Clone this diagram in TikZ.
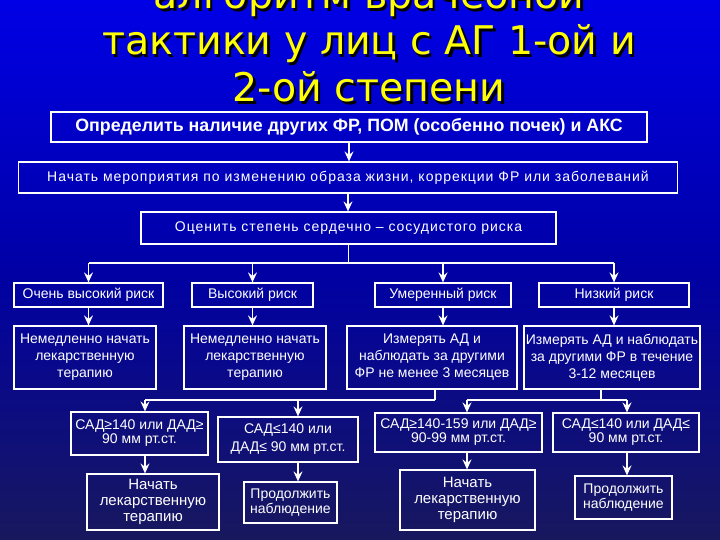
\documentclass[tikz,border=0pt]{standalone}
\usepackage{fontspec}
\setmainfont{Liberation Sans}
\newfontfamily\titlefont{DejaVu Sans}
\newfontfamily\spacedfont[LetterSpace=7]{Liberation Sans}
\usetikzlibrary{arrows.meta}
\definecolor{bgtop}{RGB}{0,0,230}
\definecolor{bgmid}{RGB}{0,0,165}
\definecolor{bgbot}{RGB}{24,24,94}
\definecolor{ttl}{RGB}{255,255,0}
\begin{document}
\begin{tikzpicture}[x=1pt,y=-1pt,
  box/.style={draw=white,line width=1.2pt,text=white,align=center,inner sep=0pt,font=\fontsize{14}{17}\selectfont},
  conn/.style={draw=white,line width=1.8pt},
  arr/.style={conn,-{Stealth[length=10pt,width=9pt,inset=3.5pt]}},
  ttlsh/.style={anchor=base,text=black,font=\titlefont\fontsize{39.5}{46}\selectfont},
  ttltx/.style={anchor=base,text=ttl,font=\titlefont\fontsize{39.5}{46}\selectfont},
]
\useasboundingbox (0,0) rectangle (720,540);
\clip (0,0) rectangle (720,540);
\shade[top color=bgtop,bottom color=bgbot,middle color=bgmid] (0,0) rectangle (720,540);
% title
\node[ttlsh] (t1s) at (371.5,11.5) {алгоритм врачебной};
\node[ttlsh] (t2s) at (371.5,57.5) {тактики у лиц с АГ 1-ой и};
\node[ttlsh] (t3s) at (371.5,104.5) {2-ой степени};
\node[ttltx] (t1) at (369,9) {алгоритм врачебной};
\node[ttltx] (t2) at (369,55) {тактики у лиц с АГ 1-ой и};
\node[ttltx] (t3) at (369,102) {2-ой степени};
% top boxes
\node[box,font=\bfseries\fontsize{17.8}{20}\selectfont,minimum width=596,minimum height=30] (b1) at (349,127) {Определить наличие других ФР, ПОМ (особенно почек) и АКС};
\node[box,font=\spacedfont\fontsize{14}{17}\selectfont,minimum width=659,minimum height=31] (b2) at (348,177.5) {Начать мероприятия по изменению образа жизни, коррекции ФР или заболеваний};
\node[box,font=\spacedfont\fontsize{14}{17}\selectfont,minimum width=415,minimum height=32] (b3) at (348.5,228) {Оценить степень сердечно – сосудистого риска};
% risk
\node[box,minimum width=149,minimum height=24] (r1) at (88.5,295) {Очень высокий риск};
\node[box,minimum width=121,minimum height=24] (r2) at (252.5,295) {Высокий риск};
\node[box,minimum width=136,minimum height=24] (r3) at (443,295) {Умеренный риск};
\node[box,minimum width=150,minimum height=24] (r4) at (614,295) {Низкий риск};
% actions
\node[box,minimum width=142,minimum height=63] (a1) at (85,357.5) {Немедленно начать\\лекарственную\\терапию};
\node[box,minimum width=142,minimum height=63] (a2) at (255,357.5) {Немедленно начать\\лекарственную\\терапию};
\node[box,minimum width=170,minimum height=63] (a3) at (432,357.5) {Измерять АД и\\наблюдать за другими\\ФР не менее 3 месяцев};
\node[box,minimum width=176,minimum height=63] (a4) at (612,357.5) {Измерять АД и наблюдать\\за другими ФР в течение\\3-12 месяцев};
% BP conditions
\node[box,font=\fontsize{14}{14}\selectfont,minimum width=137,minimum height=43] (c1) at (139.5,433.5) {САД≥140 или ДАД≥\\90 мм рт.ст.};
\node[box,font=\fontsize{14}{18}\selectfont,minimum width=140,minimum height=45] (c2) at (288,439.5) {САД≤140 или\\ДАД≤ 90 мм рт.ст.};
\node[box,font=\fontsize{14}{14}\selectfont,minimum width=167,minimum height=39] (c3) at (458.5,432.5) {САД≥140-159 или ДАД≥\\90-99 мм рт.ст.};
\node[box,font=\fontsize{14}{14}\selectfont,minimum width=146,minimum height=39] (c4) at (626,432.5) {САД≤140 или ДАД≤\\90 мм рт.ст.};
% outcomes
\node[box,font=\fontsize{15}{16}\selectfont,minimum width=132,minimum height=56] (d1) at (153,502) {Начать\\лекарственную\\терапию};
\node[box,font=\fontsize{14}{15}\selectfont,minimum width=93,minimum height=41] (d2) at (290.5,502.5) {Продолжить\\наблюдение};
\node[box,font=\fontsize{15}{16}\selectfont,minimum width=135,minimum height=60] (d3) at (467.5,500) {Начать\\лекарственную\\терапию};
\node[box,font=\fontsize{14}{15}\selectfont,minimum width=97,minimum height=43] (d4) at (623.5,497.5) {Продолжить\\наблюдение};
% connectors
\draw[arr] (b1.south) -- (b1.south |- b2.north);
\draw[arr] (b2.south) -- (b2.south |- b3.north);
\coordinate (hl) at (88.5,263);
\coordinate (hr) at (614,263);
\draw[conn] (b3.south) -- (b3.south |- hl);
\draw[conn] (hl) -- (hr);
\draw[arr] (r1.north |- hl) -- (r1.north);
\draw[arr] (r2.north |- hl) -- (r2.north);
\draw[arr] (r3.north |- hl) -- (r3.north);
\draw[arr] (r4.north |- hl) -- (r4.north);
\draw[arr] (r1.south) -- (r1.south |- a1.north);
\draw[arr] (r2.south) -- (r2.south |- a2.north);
\draw[arr] (r3.south) -- (r3.south |- a3.north);
\draw[arr] (r4.south) -- (r4.south |- a4.north);
\coordinate (p3) at (435,400);
\coordinate (p4) at (601,400);
\coordinate (q1) at (145,400);
\coordinate (q2) at (298,400);
\coordinate (q3) at (467,400);
\coordinate (q4) at (627,400);
\draw[conn] (p3 |- a3.south) -- (p3);
\draw[conn] (p4 |- a4.south) -- (p4);
\draw[conn] (q1) -- (p3);
\draw[conn] (q3) -- (q4);
\draw[arr] (q1) -- (q1 |- c1.north);
\draw[arr] (q2) -- (q2 |- c2.north);
\draw[arr] (q3) -- (q3 |- c3.north);
\draw[arr] (q4) -- (q4 |- c4.north);
\draw[arr] (q1 |- c1.south) -- (q1 |- d1.north);
\draw[arr] (q2 |- c2.south) -- (q2 |- d2.north);
\draw[arr] (q3 |- c3.south) -- (q3 |- d3.north);
\draw[arr] (q4 |- c4.south) -- (q4 |- d4.north);
\end{tikzpicture}
\end{document}
